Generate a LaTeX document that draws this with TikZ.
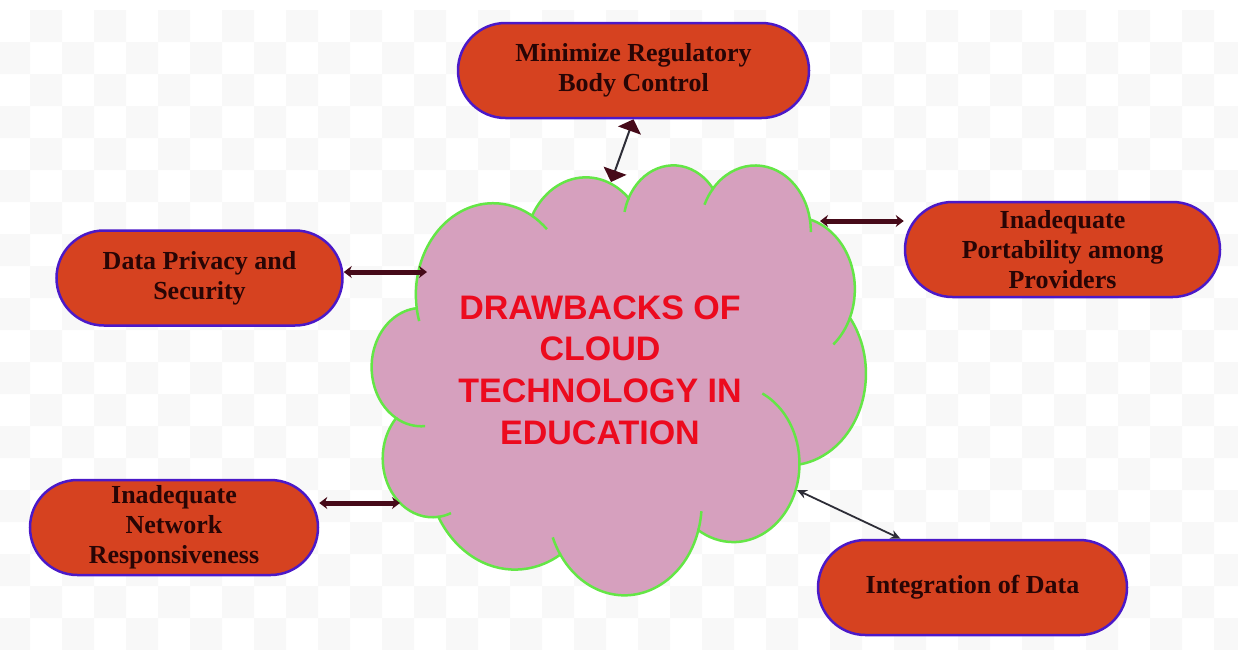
\documentclass[tikz,border=0pt]{standalone}
\usepackage{fontspec}
\setmainfont{Liberation Serif}
\newfontfamily\headfont{Liberation Sans}
\usetikzlibrary{arrows.meta}
\usetikzlibrary{shapes.misc}

\definecolor{issuefill}{RGB}{214,66,32}
\definecolor{issueline}{RGB}{75,25,200}
\definecolor{issuetext}{RGB}{40,5,5}
\definecolor{cloudfill}{RGB}{214,160,190}
\definecolor{cloudedge}{RGB}{100,230,70}
\definecolor{headred}{RGB}{236,10,30}
\definecolor{linkred}{RGB}{70,10,25}
\definecolor{linkgray}{RGB}{45,45,55}
\definecolor{checker}{RGB}{248,248,248}

\begin{document}
\begin{tikzpicture}[x=1pt,y=-1pt,
    issue/.style={rounded rectangle,draw=issueline,fill=issuefill,line width=2.5pt,
      minimum height=95pt,inner sep=0pt,align=center,text=issuetext,
      font=\bfseries\fontsize{26}{30}\selectfont},
    link/.style={draw=linkred,line width=5pt,
      {Stealth[length=8pt,width=12pt]}-{Stealth[length=8pt,width=12pt]}},
    toplink/.style={draw=linkgray,line width=2pt,
      {Triangle[length=12pt,width=24pt,color=linkred]}-{Triangle[length=12pt,width=24pt,color=linkred]}},
    thinlink/.style={draw=linkgray,line width=1.8pt,
      {Stealth[length=10pt,width=9pt]}-{Stealth[length=10pt,width=9pt]}},
    cloudline/.style={draw=cloudedge,line width=2.5pt}]
  \useasboundingbox (0,0) rectangle (1238,649);
  % faint checker behind everything
  \begin{scope}
    \clip (0,0) rectangle (1238,649);
    \foreach \x in {30,94,...,1270}
      \foreach \y in {10,74,...,650}
        \fill[checker] (\x,\y) rectangle +(32,32) (\x-32,\y+32) rectangle +(32,32);
  \end{scope}
  % cloud
  \begin{scope}[xshift=372pt,yshift=-164pt,x=0.011435pt,y=-0.009954pt]
    \fill[fill=cloudfill] (3900,14370)
      arc[start angle=-187.745,end angle=-59.64,x radius=6753,y radius=9190]
      arc[start angle=-152.05,end angle=-45.455,x radius=5333,y radius=7267]
      arc[start angle=-153.49,end angle=-37.33,x radius=4365,y radius=5945]
      arc[start angle=-139.71,end angle=-10.21,x radius=4857,y radius=6595]
      arc[start angle=-74.77,end angle=23.21,x radius=5333,y radius=7273]
      arc[start angle=-37.51,end angle=81.86,x radius=6775,y radius=9220]
      arc[start angle=0.46,end angle=121.97,x radius=5785,y radius=7867]
      arc[start angle=16.84,end angle=146.22,x radius=6752,y radius=9215]
      arc[start angle=58.99,end angle=150.19,x radius=7720,y radius=10543]
      arc[start angle=-276.69,end angle=-136.90,x radius=4360,y radius=5918]
      arc[start angle=-239.65,end angle=-95.89,x radius=4345,y radius=5945]
      -- cycle;
    \draw[cloudline] (3900,14370)
      arc[start angle=-187.745,end angle=-59.64,x radius=6753,y radius=9190]
      arc[start angle=-152.05,end angle=-45.455,x radius=5333,y radius=7267]
      arc[start angle=-153.49,end angle=-37.33,x radius=4365,y radius=5945]
      arc[start angle=-139.71,end angle=-10.21,x radius=4857,y radius=6595]
      arc[start angle=-74.77,end angle=23.21,x radius=5333,y radius=7273]
      arc[start angle=-37.51,end angle=81.86,x radius=6775,y radius=9220]
      arc[start angle=0.46,end angle=121.97,x radius=5785,y radius=7867]
      arc[start angle=16.84,end angle=146.22,x radius=6752,y radius=9215]
      arc[start angle=58.99,end angle=150.19,x radius=7720,y radius=10543]
      arc[start angle=-276.69,end angle=-136.90,x radius=4360,y radius=5918]
      arc[start angle=-239.65,end angle=-95.89,x radius=4345,y radius=5945]
      -- cycle;
    % inner folds
    \draw[cloudline] (2112,25548) arc[start angle=120.35,end angle=85.54,x radius=4345,y radius=5945];
    \draw[cloudline] (5803,35470) arc[start angle=83.31,end angle=68.28,x radius=4360,y radius=5918];
    \draw[cloudline] (16481,39263) arc[start angle=146.22,end angle=158.44,x radius=6752,y radius=9215];
    \draw[cloudline] (28555,36808) arc[start angle=16.84,end angle=4.74,x radius=6752,y radius=9215];
    \draw[cloudline] (37403,30197) arc[start angle=0.46,end angle=-64.01,x radius=5785,y radius=7867];
    \draw[cloudline] (41819,15457) arc[start angle=23.21,end angle=49.66,x radius=5333,y radius=7273];
    \draw[cloudline] (38319,5573) arc[start angle=-10.21,end angle=0.82,x radius=4857,y radius=6595];
    \draw[cloudline] (29834,2478) arc[start angle=-139.71,end angle=-156.29,x radius=4857,y radius=6595];
    \draw[cloudline] (22457,3430) arc[start angle=-153.49,end angle=-167.71,x radius=4365,y radius=5945];
    \draw[cloudline] (14005,5203) arc[start angle=-59.64,end angle=-45.73,x radius=6753,y radius=9190];
    \draw[cloudline] (3900,14370) arc[start angle=172.255,end angle=163.19,x radius=6753,y radius=9190];
  \end{scope}
  \node[align=center,text=headred,inner sep=0pt,
    font=\headfont\bfseries\fontsize{34}{41.7}\selectfont] (title) at (600,370)
    {DRAWBACKS OF\\CLOUD\\TECHNOLOGY IN\\EDUCATION};
  % the five drawbacks
  \node[issue,minimum width=351pt] (reg) at (633.5,70.5) {Minimize Regulatory\\Body Control};
  \node[issue,minimum width=286pt] (priv) at (199.5,278) {Data Privacy and\\Security};
  \node[issue,minimum width=315pt] (port) at (1062.5,249.5) {Inadequate\\Portability among\\Providers};
  \node[issue,minimum width=288pt] (net) at (174,527.5) {Inadequate\\Network\\Responsiveness};
  \node[issue,minimum width=309pt] (integ) at (972.5,587.5) {Integration of Data};
  % where the arrows meet the cloud
  \coordinate (ctop) at (611,182);
  \coordinate (cleft) at (427,272);
  \coordinate (cright) at (820,221);
  \coordinate (clow) at (400,503);
  \coordinate (cdown) at (797,490);
  \draw[toplink] (reg.south) -- (ctop);
  \draw[link] (cleft -| priv.east) -- (cleft);
  \draw[link] (cright) -- (cright -| port.west);
  \draw[link] (clow -| net.east) -- (clow);
  \draw[thinlink] (cdown) -- ([xshift=-72pt]integ.north);
\end{tikzpicture}
\end{document}
